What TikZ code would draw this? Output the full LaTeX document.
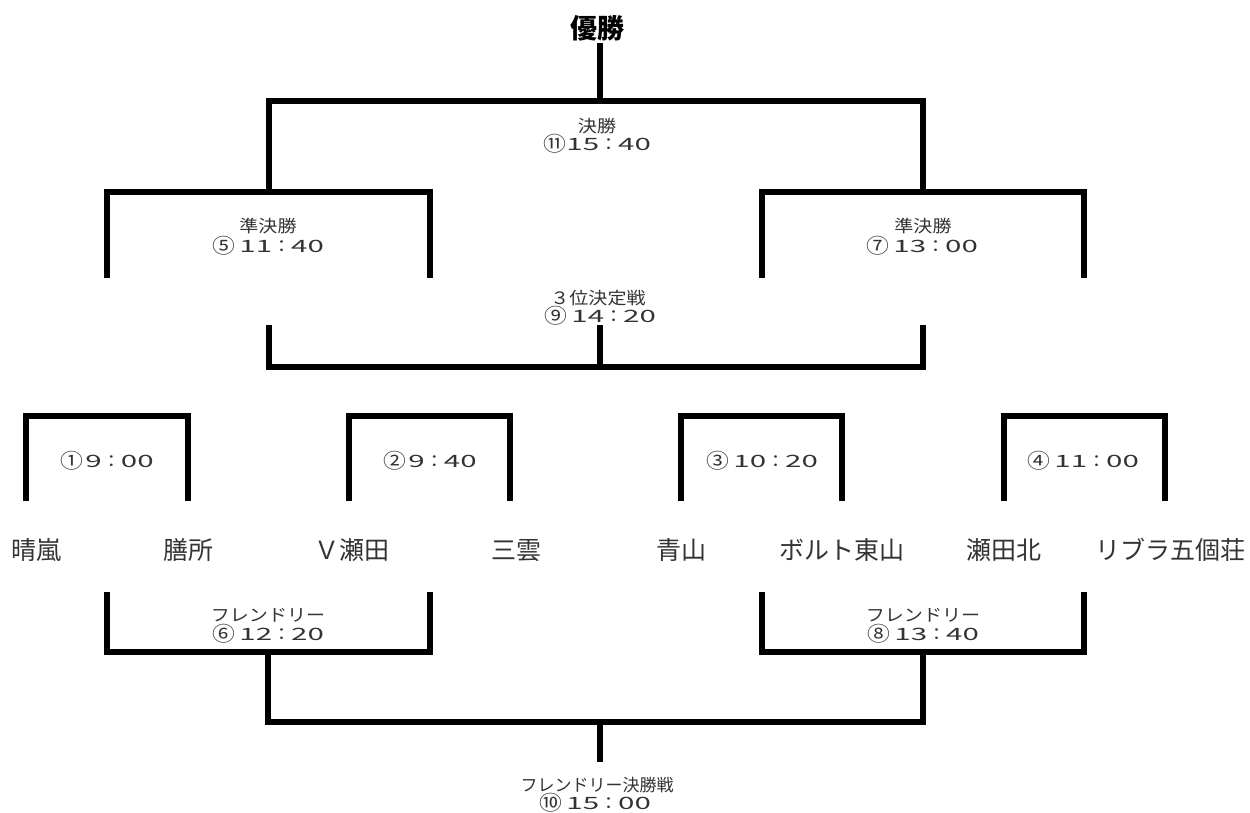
\documentclass[tikz,border=0pt]{standalone}
\usepackage{fontspec}
\usepackage{graphicx}
\newfontfamily\cjk{Noto Sans CJK JP}
\definecolor{txt}{HTML}{333333}
\newcommand\sx[1]{\scalebox{1.12}[1]{#1}}
\newcommand\dg[1]{\scalebox{1.55}[1]{#1}}
\newcommand\circn[1]{\raisebox{-1.2pt}{\scalebox{1.2}{#1}}}
\newcommand\tmlab[4][4pt]{\sx{\circn{#2}\hspace{#1}\dg{#3}：\dg{#4}}}
\begin{document}
\begin{tikzpicture}[x=1pt,y=-1pt,
  br/.style={line width=6.5pt,line cap=butt,line join=miter,draw=black},
  sm/.style={font=\cjk\fontsize{17}{19}\selectfont,text=txt,inner sep=0pt,anchor=base},
  team/.style={font=\cjk\fontsize{25}{30}\selectfont,text=txt,inner sep=0pt,anchor=base},
  ttl/.style={font=\cjk\bfseries\fontsize{27}{31}\selectfont,text=black,inner sep=0pt,anchor=base}]
\fill[white] (0,0) rectangle (1250,812);
\useasboundingbox (0,0) rectangle (1250,812);

% ---------- coordinates ----------
% final
\coordinate (fTop) at (600,43);
\coordinate (fMid) at (600,101);
\coordinate (fL)   at (269,101);
\coordinate (fR)   at (923,101);
% semi finals
\coordinate (sLa) at (107,278); \coordinate (sLat) at (107,192);
\coordinate (sLbt) at (430,192); \coordinate (sLb) at (430,278);
\coordinate (sLm) at (269,192);
\coordinate (sRa) at (762,278); \coordinate (sRat) at (762,192);
\coordinate (sRbt) at (1084,192); \coordinate (sRb) at (1084,278);
\coordinate (sRm) at (923,192);
% third place
\coordinate (tL) at (269,325); \coordinate (tLb) at (269,367);
\coordinate (tR) at (923,325); \coordinate (tRb) at (923,367);
\coordinate (tM) at (600,325); \coordinate (tMb) at (600,367);
% first round
\foreach \n/\a/\b in {1/26/188, 2/349/510, 3/681/842, 4/1004/1165}{
  \coordinate (r\n a) at (\a,501); \coordinate (r\n at) at (\a,416);
  \coordinate (r\n b) at (\b,501); \coordinate (r\n bt) at (\b,416);
}
% friendly
\coordinate (yLa) at (107,592); \coordinate (yLab) at (107,652);
\coordinate (yLb) at (430,592); \coordinate (yLbb) at (430,652);
\coordinate (yLm) at (268,652); \coordinate (yLmb) at (268,722);
\coordinate (yRa) at (762,592); \coordinate (yRab) at (762,652);
\coordinate (yRb) at (1084,592); \coordinate (yRbb) at (1084,652);
\coordinate (yRm) at (923,652); \coordinate (yRmb) at (923,722);
\coordinate (yFm) at (600,722); \coordinate (yFb) at (600,762);

% ---------- bracket lines ----------
\draw[br] (fTop) -- (fMid);
\draw[br] (sLm) -- (fL) -- (fR) -- (sRm);
\draw[br] (sLa) -- (sLat) -- (sLbt) -- (sLb);
\draw[br] (sRa) -- (sRat) -- (sRbt) -- (sRb);
\draw[br] (tL) -- (tLb) -- (tRb) -- (tR);
\draw[br] (tM) -- (tMb);
\foreach \n in {1,2,3,4}{
  \draw[br] (r\n a) -- (r\n at) -- (r\n bt) -- (r\n b);
}
\draw[br] (yLa) -- (yLab) -- (yLbb) -- (yLb);
\draw[br] (yRa) -- (yRab) -- (yRbb) -- (yRb);
\draw[br] (yLm) -- (yLmb) -- (yRmb) -- (yRm);
\draw[br] (yFm) -- (yFb);

% ---------- labels ----------
\node[ttl] (champ) at (597,38) {優勝};
\node[sm] (finA) at (597,132.5) {\sx{決勝}};
\node[sm] (finB) at (597,150) {\tmlab[0.5pt]{⑪}{15}{40}};
\node[sm] (semLA) at (268,232.5) {\sx{準決勝}};
\node[sm] (semLB) at (268,252) {\tmlab{⑤}{11}{40}};
\node[sm] (semRA) at (923,232.5) {\sx{準決勝}};
\node[sm] (semRB) at (922,252) {\tmlab{⑦}{13}{00}};
\node[sm] (thA) at (598,304) {\sx{３位決定戦}};
\node[sm] (thB) at (600,322) {\tmlab{⑨}{14}{20}};
\node[sm] (m1) at (107,467) {\tmlab[2pt]{①}{9}{00}};
\node[sm] (m2) at (430,467) {\tmlab[2pt]{②}{9}{40}};
\node[sm] (m3) at (762,467) {\tmlab{③}{10}{20}};
\node[sm] (m4) at (1083,467) {\tmlab{④}{11}{00}};

\node[team] (t1) at (36,559.5)  {晴嵐};
\node[team] (t2) at (188,559.5) {膳所};
\node[team] (t3) at (352,559.5) {Ｖ瀬田};
\node[team] (t4) at (516,559.5) {三雲};
\node[team] (t5) at (681,559.5) {青山};
\node[team] (t6) at (842,559.5) {ボルト東山};
\node[team] (t7) at (1004,559.5) {瀬田北};
\node[team] (t8) at (1170,559.5) {リブラ五個荘};

\node[sm] (frLA) at (268,621) {\sx{フレンドリー}};
\node[sm] (frLB) at (268,640) {\tmlab{⑥}{12}{20}};
\node[sm] (frRA) at (923,621) {\sx{フレンドリー}};
\node[sm] (frRB) at (923,640) {\tmlab{⑧}{13}{40}};
\node[sm] (frFA) at (597,791) {フレンドリー決勝戦};
\node[sm] (frFB) at (595,809) {\tmlab{⑩}{15}{00}};
\end{tikzpicture}
\end{document}
